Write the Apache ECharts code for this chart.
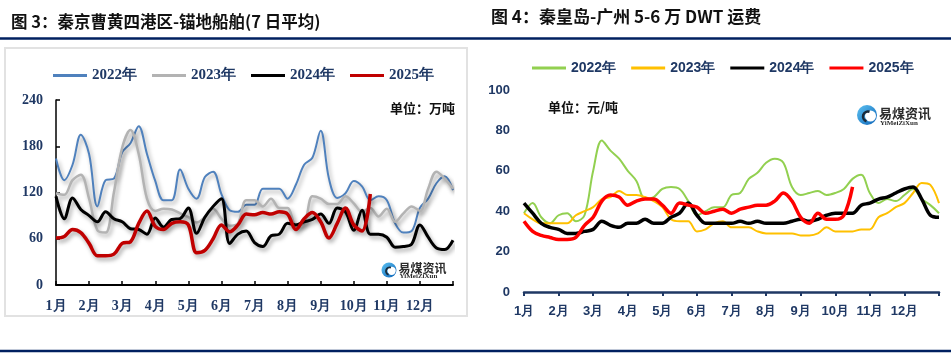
<!DOCTYPE html>
<html>
<head>
<meta charset="utf-8">
<script src="https://cdn.jsdelivr.net/npm/echarts@6/dist/echarts.min.js"></script>
<style>html,body{margin:0;padding:0;background:#fff;}#c{width:951px;height:361px;}</style>
</head>
<body>
<div id="c"></div>
<script>
// ---- data ----
const MONTHS = ['1月','2月','3月','4月','5月','6月','7月','8月','9月','10月','11月','12月'];
const STEP = 0.25; // quarter-month sampling
const YEARS = ['2022年','2023年','2024年','2025年'];
const LEFT_TICKS = [0, 60, 120, 180, 240];
const RIGHT_TICKS = [0, 20, 40, 60, 80, 100];

// 图3 锚地船舶 (万吨)
const L2022 = [164,136,156,195,170,102,136,138,172,184,206,170,135,110,110,150,125,112,140,147,118,97,95,104,104,125,125,125,112,130,156,165,200,138,113,119,135,128,110,115,110,80,68,70,100,112,132,141,123];
const L2023 = [119,117,136,143,112,71,68,120,178,201,170,112,96,99,98,93,88,81,88,99,86,77,80,110,110,102,112,100,100,78,80,115,112,105,105,115,106,95,100,89,99,82,93,102,96,125,147,138,125];
const L2024 = [115,86,113,98,90,82,95,86,82,73,72,66,87,75,85,86,100,67,88,102,112,54,66,70,55,50,64,66,80,78,82,85,92,80,100,95,71,97,66,66,62,49,50,53,78,62,48,46,58];
const L2025 = [61,63,72,68,54,38,38,40,54,56,80,96,76,72,80,82,78,42,45,60,78,69,78,92,91,94,92,95,92,72,86,94,82,61,80,100,78,70,118];

// 图4 运费 (元/吨)
const R2022 = [39,44,37,34,38,39,35,38,60,75,70,66,60,55,46,47,51,52,51,45,38,40,42,42,48,49,56,59,64,66,64,52,48,49,50,48,49,51,56,58,49,44,46,45,48,51,46,43,39];
const R2023 = [39,36,34,34,34,34,38,40,42,46,47,50,48,48,47,45,42,36,35,35,30,31,34,35,32,32,32,30,29,29,29,29,28,28,29,32,30,30,30,31,31,37,39,42,44,49,54,53,44];
const R2024 = [44,39,34,32,31,29,29,30,31,35,33,32,34,34,36,34,34,37,39,44,38,34,34,34,34,35,34,35,34,34,34,35,36,35,36,38,39,39,39,43,44,46,47,49,51,52,46,38,37];
const R2025 = [35,30,28,27,26,26,27,33,37,45,48,47,43,45,46,46,43,39,44,43,42,39,40,41,39,41,42,43,43,45,49,45,37,34,39,36,36,38,52];

const LEFT_COLORS = ['#4f81bd','#b3b3b3','#000000','#c00000'];
const RIGHT_COLORS = ['#92d050','#ffc000','#000000','#ff0000'];
const LEFT_WIDTH = [2, 2.5, 3, 3.5];
const RIGHT_WIDTH = [2, 2, 3.5, 3.5];

const toPts = arr => arr.map((v, i) => [i * STEP, v]);

const NAVY = '#1f3864';
const chart = echarts.init(document.getElementById('c'), null, {renderer: 'canvas'});

function monthLabel(v) { return v < 12 ? MONTHS[v] : ''; }

const leftData = [L2022, L2023, L2024, L2025];
const rightData = [R2022, R2023, R2024, R2025];

const series = [];
leftData.forEach((d, i) => {
  series.push({
    name: YEARS[i], type: 'line', xAxisIndex: 0, yAxisIndex: 0,
    data: toPts(d), showSymbol: false, symbol: 'none', smooth: 0.35,
    lineStyle: {color: LEFT_COLORS[i], width: LEFT_WIDTH[i],
      shadowColor: 'rgba(0,0,0,0.35)', shadowBlur: 4, shadowOffsetX: 2, shadowOffsetY: 3},
    itemStyle: {color: LEFT_COLORS[i]}, z: 2 + i, animation: false
  });
});
rightData.forEach((d, i) => {
  series.push({
    name: YEARS[i], type: 'line', xAxisIndex: 1, yAxisIndex: 1,
    data: toPts(d), showSymbol: false, symbol: 'none', smooth: 0.35,
    lineStyle: {color: RIGHT_COLORS[i], width: RIGHT_WIDTH[i]},
    itemStyle: {color: RIGHT_COLORS[i]}, z: 2 + i, animation: false
  });
});

function legendFor(colors, left, top, font, size) {
  return {
    left: left, top: top, orient: 'horizontal', selectedMode: false,
    icon: 'rect', itemWidth: 34, itemHeight: 3, itemGap: 15,
    textStyle: {color: NAVY, fontFamily: font, fontWeight: 'bold', fontSize: size, padding: [0,0,0,0]},
    data: YEARS.map((y, i) => ({name: y, itemStyle: {color: colors[i]}, lineStyle: {color: colors[i]}}))
  };
}

function logo(cx, cy, r, fs) {
  return {
    type: 'group',
    children: [
      {type: 'circle', shape: {cx: cx, cy: cy, r: r},
       style: {fill: new echarts.graphic.LinearGradient(0,0,1,1,[{offset:0,color:'#5ec3f2'},{offset:1,color:'#0b63b8'}])}},
      {type: 'circle', shape: {cx: cx + r*0.35, cy: cy + r*0.1, r: r*0.55}, style: {fill: '#ffffff'}},
      {type: 'arc', shape: {cx: cx + r*0.1, cy: cy + r*0.15, r: r*0.5, startAngle: Math.PI*0.6, endAngle: Math.PI*1.6},
       style: {stroke: '#1a2a3a', lineWidth: r*0.25, fill: null}},
      {type: 'text', style: {x: cx + r + 2, y: cy - r*0.2, text: '易煤资讯', fill: '#2b2b2b',
        font: 'bold ' + fs + 'px "Noto Sans CJK SC"', textVerticalAlign: 'middle'}},
      {type: 'text', style: {x: cx + r + 3, y: cy + r*0.8, text: 'YiMeiZiXun', fill: '#2b2b2b',
        font: 'bold ' + Math.round(fs*0.55) + 'px "Liberation Serif"', textVerticalAlign: 'middle'}}
    ]
  };
}

const option = {
  backgroundColor: '#ffffff',
  animation: false,
  title: [
    {text: '图 3：秦京曹黄四港区-锚地船舶(7 日平均)', left: 6, top: 8,
     textStyle: {fontFamily: 'Noto Sans CJK SC', fontWeight: 'bold', fontSize: 16.5, color: '#111'}},
    {text: '图 4：秦皇岛-广州 5-6 万 DWT 运费', left: 486, top: 3,
     textStyle: {fontFamily: 'Noto Sans CJK SC', fontWeight: 'bold', fontSize: 17, color: '#111'}}
  ],
  legend: [
    legendFor(LEFT_COLORS, 48, 63, 'Liberation Serif', 15),
    legendFor(RIGHT_COLORS, 527, 56, 'Liberation Sans', 14)
  ],
  grid: [
    {left: 56, top: 100, width: 397, height: 185, containLabel: false},
    {left: 524, top: 90, width: 415, height: 202, containLabel: false}
  ],
  xAxis: [
    {type: 'value', gridIndex: 0, min: 0, max: 12, interval: 1,
     axisLine: {show: true, lineStyle: {color: '#000', width: 2}},
     axisTick: {show: true, inside: true, length: 4, lineStyle: {color: '#000', width: 1.5}},
     axisLabel: {formatter: monthLabel, color: NAVY, fontFamily: 'Liberation Serif', fontWeight: 'bold', fontSize: 14, margin: 14},
     splitLine: {show: false}},
    {type: 'value', gridIndex: 1, min: 0, max: 12, interval: 1,
     axisLine: {show: true, lineStyle: {color: NAVY, width: 2.5}},
     axisTick: {show: true, inside: false, length: 4, lineStyle: {color: NAVY, width: 2}},
     axisLabel: {formatter: monthLabel, color: NAVY, fontFamily: 'Liberation Sans', fontWeight: 'bold', fontSize: 13, margin: 13},
     splitLine: {show: false}}
  ],
  yAxis: [
    {type: 'value', gridIndex: 0, min: LEFT_TICKS[0], max: LEFT_TICKS[LEFT_TICKS.length-1], interval: 60,
     axisLine: {show: true, lineStyle: {color: '#000', width: 1.5}},
     axisTick: {show: true, inside: true, length: 4, lineStyle: {color: '#000', width: 1.5}},
     axisLabel: {color: NAVY, fontFamily: 'Liberation Serif', fontWeight: 'bold', fontSize: 14, margin: 13},
     splitLine: {show: false}},
    {type: 'value', gridIndex: 1, min: RIGHT_TICKS[0], max: RIGHT_TICKS[RIGHT_TICKS.length-1], interval: 20,
     axisLine: {show: false}, axisTick: {show: false},
     axisLabel: {color: NAVY, fontFamily: 'Liberation Sans', fontWeight: 'bold', fontSize: 13, margin: 14},
     splitLine: {show: false}}
  ],
  graphic: [
    {type: 'rect', z: -10, shape: {x: 5, y: 48, width: 462, height: 268},
     style: {fill: '#ffffff', stroke: '#e2e2e2', lineWidth: 2}},
    {type: 'line', shape: {x1: 0, y1: 38.5, x2: 951, y2: 38.5}, style: {stroke: '#002060', lineWidth: 2.5}},
    {type: 'line', shape: {x1: 0, y1: 351, x2: 951, y2: 351}, style: {stroke: '#002060', lineWidth: 2.5}},
    {type: 'text', style: {x: 390, y: 108, text: '单位：万吨', fill: '#111',
      font: 'bold 13px "Noto Sans CJK SC"', textVerticalAlign: 'middle'}},
    {type: 'text', style: {x: 548, y: 107, text: '单位：元/吨', fill: '#111',
      font: 'bold 13px "Noto Sans CJK SC"', textVerticalAlign: 'middle'}},
    logo(389, 270, 7.5, 12),
    logo(867, 115, 10, 13)
  ],
  series: series
};
chart.setOption(option);
</script>
</body>
</html>
